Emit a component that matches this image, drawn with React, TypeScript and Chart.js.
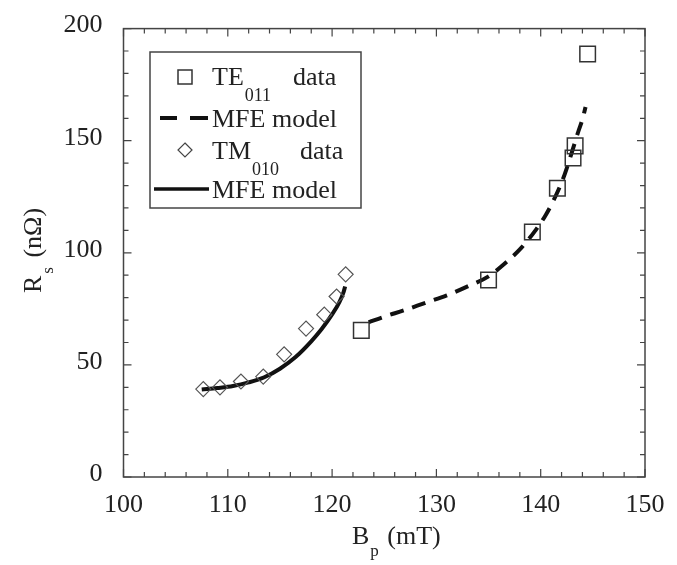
import React, { useEffect, useRef } from "react";
import { Chart, registerables } from "chart.js";

Chart.register(...registerables);

// TE011 data (squares)
const te011Bp = [122.8, 135.0, 139.2, 141.6, 143.1, 143.3, 144.5];
const te011Rs = [65.4, 87.9, 109.3, 128.8, 142.3, 147.7, 188.7];

// TE011 MFE model (dashed)
const te011ModelBp = [123.5, 125, 127, 129, 131, 133, 135, 136.5, 138, 139.5, 140.5, 141.5, 142.3, 143.0, 143.6, 144.0, 144.3];
const te011ModelRs = [69, 71.5, 74.5, 77.8, 81, 85, 89.5, 95, 101.5, 110, 117, 126, 135, 145, 154, 159.5, 165];

// TM010 data (diamonds)
const tm010Bp = [107.65, 109.25, 111.26, 113.4, 115.4, 117.5, 119.25, 120.43, 121.3];
const tm010Rs = [39.2, 40.0, 42.6, 44.8, 54.7, 66.2, 72.4, 80.5, 90.4];

// TM010 MFE model (solid)
const tm010ModelBp = [107.5, 109, 110.5, 112, 113.5, 115, 116.5, 118, 119, 120, 120.7, 121.1, 121.25];
const tm010ModelRs = [39, 39.7, 40.6, 42.2, 44.5, 48.3, 53.5, 60.5, 66, 72.5, 78, 82.5, 85];

const xMin = 100, xMax = 150, xStep = 10, xMinorStep = 2;
const yMin = 0, yMax = 200, yStep = 50, yMinorStep = 10;

const FONT = "'Liberation Serif', 'Times New Roman', serif";

const toPts = (xs: number[], ys: number[]) => xs.map((x, i) => ({ x, y: ys[i] }));

type Seg = { t: string; size: number; dy: number; gap?: number };

function drawSegs(ctx: CanvasRenderingContext2D, segs: Seg[], x: number, y: number) {
  let cx = x;
  for (const s of segs) {
    cx += s.gap || 0;
    ctx.font = `${s.size}px ${FONT}`;
    ctx.fillText(s.t, cx, y + s.dy);
    cx += ctx.measureText(s.t).width;
  }
  return cx;
}
function segsWidth(ctx: CanvasRenderingContext2D, segs: Seg[]) {
  let w = 0;
  for (const s of segs) {
    ctx.font = `${s.size}px ${FONT}`;
    w += ctx.measureText(s.t).width + (s.gap || 0);
  }
  return w;
}

const framePlugin = {
  id: "frameTicks",
  beforeDatasetsDraw(chart: any) {
    const ctx = chart.ctx as CanvasRenderingContext2D;
    const { left, right, top, bottom } = chart.chartArea;
    const xs = chart.scales.x, ys = chart.scales.y;
    ctx.save();
    ctx.strokeStyle = "#444";
    ctx.lineWidth = 1.5;
    ctx.strokeRect(left, top, right - left, bottom - top);
    ctx.lineWidth = 1.2;
    ctx.beginPath();
    for (let v = xMin; v <= xMax + 1e-9; v += xMinorStep) {
      const px = xs.getPixelForValue(v);
      const len = Math.abs(v % xStep) < 1e-6 ? 8 : 5;
      ctx.moveTo(px, bottom);
      ctx.lineTo(px, bottom - len);
      ctx.moveTo(px, top);
      ctx.lineTo(px, top + len);
    }
    for (let v = yMin; v <= yMax + 1e-9; v += yMinorStep) {
      const py = ys.getPixelForValue(v);
      const len = Math.abs(v % yStep) < 1e-6 ? 8 : 5;
      ctx.moveTo(left, py);
      ctx.lineTo(left + len, py);
      ctx.moveTo(right, py);
      ctx.lineTo(right - len, py);
    }
    ctx.stroke();
    ctx.restore();
  },
  afterDraw(chart: any) {
    const ctx = chart.ctx as CanvasRenderingContext2D;
    const { left, right, top, bottom } = chart.chartArea;
    ctx.save();
    ctx.fillStyle = "#222";
    ctx.textBaseline = "alphabetic";
    ctx.textAlign = "left";

    // X axis title
    const xt: Seg[] = [
      { t: "B", size: 26, dy: 0 },
      { t: "p", size: 17, dy: 12, gap: 1 },
      { t: " (mT)", size: 26, dy: 0, gap: 2 },
    ];
    drawSegs(ctx, xt, 352, 544);

    // Y axis title (rotated)
    const yt: Seg[] = [
      { t: "R", size: 26, dy: 0 },
      { t: "s", size: 17, dy: 12, gap: 2 },
      { t: " (nΩ)", size: 26, dy: 0, gap: 3 },
    ];
    ctx.save();
    ctx.translate(41, 293);
    ctx.rotate(-Math.PI / 2);
    drawSegs(ctx, yt, 0, 0);
    ctx.restore();

    // Legend
    const lx = 150, ly = 52, lw = 211, lh = 156;
    ctx.fillStyle = "#fff";
    ctx.fillRect(lx, ly, lw, lh);
    ctx.strokeStyle = "#444";
    ctx.lineWidth = 1.5;
    ctx.strokeRect(lx, ly, lw, lh);
    ctx.fillStyle = "#222";

    const mx = 185, tx = 212;
    // row 1: square
    ctx.strokeStyle = "#333";
    ctx.lineWidth = 1.5;
    ctx.strokeRect(mx - 7, 70, 14, 14);
    drawSegs(ctx, [{ t: "TE", size: 26, dy: 0 }, { t: "011", size: 18, dy: 16, gap: 1 }], tx, 85);
    drawSegs(ctx, [{ t: "data", size: 26, dy: 0 }], 293, 85);

    // row 2: dashed
    ctx.strokeStyle = "#111";
    ctx.lineWidth = 4;
    ctx.beginPath();
    ctx.moveTo(160, 118); ctx.lineTo(177, 118);
    ctx.moveTo(190, 118); ctx.lineTo(208, 118);
    ctx.stroke();
    drawSegs(ctx, [{ t: "MFE model", size: 26, dy: 0 }], tx, 127);

    // row 3: diamond
    ctx.strokeStyle = "#444";
    ctx.lineWidth = 1.2;
    ctx.beginPath();
    ctx.moveTo(mx, 143); ctx.lineTo(mx + 7, 150); ctx.lineTo(mx, 157); ctx.lineTo(mx - 7, 150); ctx.closePath();
    ctx.stroke();
    drawSegs(ctx, [{ t: "TM", size: 26, dy: 0 }, { t: "010", size: 18, dy: 16, gap: 1 }], tx, 159);
    drawSegs(ctx, [{ t: "data", size: 26, dy: 0 }], 300, 159);

    // row 4: solid
    ctx.strokeStyle = "#111";
    ctx.lineWidth = 3.5;
    ctx.beginPath();
    ctx.moveTo(154, 189); ctx.lineTo(209, 189);
    ctx.stroke();
    drawSegs(ctx, [{ t: "MFE model", size: 26, dy: 0 }], tx, 198);

    ctx.restore();
  },
};

export default function App() {
  const ref = useRef<HTMLCanvasElement | null>(null);
  useEffect(() => {
    if (!ref.current) return;
    const chart = new Chart(ref.current, {
      type: "scatter",
      data: {
        datasets: [
          {
            label: "TE011 data",
            data: toPts(te011Bp, te011Rs),
            pointStyle: "rect",
            pointRadius: 11,
            borderColor: "#333",
            backgroundColor: "rgba(0,0,0,0)",
            borderWidth: 1.5,
            showLine: false,
          },
          {
            label: "MFE model",
            data: toPts(te011ModelBp, te011ModelRs),
            showLine: true,
            pointRadius: 0,
            borderColor: "#111",
            borderWidth: 4,
            borderDash: [14, 9],
            cubicInterpolationMode: "monotone",
          },
          {
            label: "TM010 data",
            data: toPts(tm010Bp, tm010Rs),
            pointStyle: "rectRot",
            pointRadius: 7.5,
            borderColor: "#555",
            backgroundColor: "rgba(0,0,0,0)",
            borderWidth: 1.2,
            showLine: false,
          },
          {
            label: "MFE model",
            data: toPts(tm010ModelBp, tm010ModelRs),
            showLine: true,
            pointRadius: 0,
            borderColor: "#111",
            borderWidth: 4,
            cubicInterpolationMode: "monotone",
          },
        ],
      },
      options: {
        animation: false,
        responsive: false,
        events: [],
        layout: { padding: { left: 0, top: 25, right: 32, bottom: 0 } },
        plugins: { legend: { display: false }, tooltip: { enabled: false } },
        scales: {
          x: {
            type: "linear",
            min: xMin,
            max: xMax,
            grid: { display: false },
            border: { display: false },
            ticks: {
              stepSize: xStep,
              padding: 5,
              color: "#222",
              font: { family: FONT, size: 26 },
            },
            afterFit: (s: any) => { s.height = 88; },
          },
          y: {
            type: "linear",
            min: yMin,
            max: yMax,
            grid: { display: false },
            border: { display: false },
            ticks: {
              stepSize: yStep,
              padding: 13,
              labelOffset: -3,
              color: "#222",
              font: { family: FONT, size: 26 },
            },
            afterFit: (s: any) => { s.width = 123.5; },
          },
        },
      },
      plugins: [framePlugin],
    });
    return () => chart.destroy();
  }, []);
  return (
    <div style={{ position: "absolute", left: 0, top: 0, width: 677, height: 565, background: "#fff" }}>
      <canvas ref={ref} width={677} height={565} />
    </div>
  );
}
